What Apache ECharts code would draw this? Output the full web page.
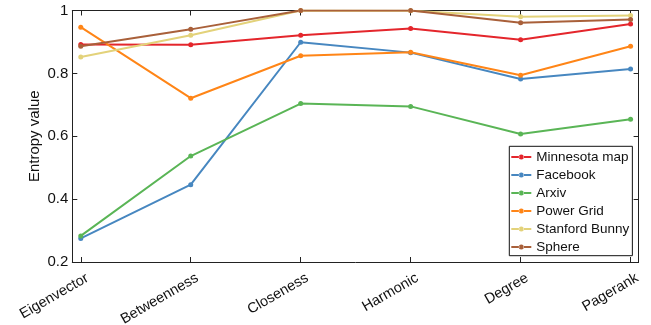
<!DOCTYPE html>
<html><head><meta charset="utf-8">
<script src="https://cdn.jsdelivr.net/npm/echarts@6/dist/echarts.min.js"></script>
<style>html,body{margin:0;padding:0;background:#fff}#c{width:651px;height:325px}</style>
</head><body><div id="c"></div>
<script>
const categories = ['Eigenvector','Betweenness','Closeness','Harmonic','Degree','Pagerank'];
const seriesNames = ['Minnesota map','Facebook','Arxiv','Power Grid','Stanford Bunny','Sphere'];
const minnesota = [0.892, 0.891, 0.921, 0.943, 0.907, 0.957];
const facebook  = [0.275, 0.446, 0.899, 0.866, 0.782, 0.814];
const arxiv     = [0.283, 0.537, 0.704, 0.695, 0.607, 0.654];
const powerGrid = [0.947, 0.721, 0.856, 0.867, 0.794, 0.886];
const bunny     = [0.852, 0.921, 1.000, 0.999, 0.980, 0.984];
const sphere    = [0.886, 0.940, 1.000, 1.000, 0.961, 0.971];
const yTicks = [0.2, 0.4, 0.6, 0.8, 1];

const allValues = [minnesota, facebook, arxiv, powerGrid, bunny, sphere];
const colors = ['#e4262c', '#4787c0', '#5ab556', '#ff8517', '#e3d27a', '#a9603a'];
const font = "'Liberation Sans', Arial, sans-serif";
const axisColor = '#222';
const catIdx = categories.map((c, i) => i);
const xMin = -0.077, xMax = 5.073, labelShift = 0.06;
const legendIcon = 'path://M0,1.5L8,1.5L8,3.5L0,3.5Z M12,1.5L20,1.5L20,3.5L12,3.5Z M7.5,2.5A2.5,2.5,0,1,0,12.5,2.5A2.5,2.5,0,1,0,7.5,2.5Z';

const chart = echarts.init(document.getElementById('c'), null, {renderer: 'canvas'});
const series = seriesNames.map((name, k) => ({
  name: name,
  type: 'line',
  xAxisIndex: 0, yAxisIndex: 0,
  data: allValues[k].map((v, i) => [i, v]),
  symbol: 'circle',
  symbolSize: 5,
  lineStyle: {width: 2, color: colors[k]},
  itemStyle: {color: colors[k]},
  emphasis: {disabled: true},
  animation: false
}));

chart.setOption({
  animation: false,
  color: colors,
  textStyle: {fontFamily: font},
  grid: {left: 72.3, right: 12.4, top: 10.5, bottom: 63, containLabel: false, outerBoundsMode: 'none'},
  xAxis: [{
    type: 'value', min: xMin, max: xMax, position: 'bottom',
    axisLine: {show: true, onZero: false, lineStyle: {color: axisColor, width: 1}},
    axisTick: {show: true, inside: true, length: 5, customValues: catIdx, lineStyle: {color: axisColor}},
    axisLabel: {show: false},
    splitLine: {show: false}
  }, {
    type: 'value', min: xMin, max: xMax, position: 'top',
    axisLine: {show: true, onZero: false, lineStyle: {color: axisColor, width: 1}},
    axisTick: {show: true, inside: true, length: 5, customValues: catIdx, lineStyle: {color: axisColor}},
    axisLabel: {show: false},
    splitLine: {show: false}
  }, {
    type: 'value', min: xMin - labelShift, max: xMax - labelShift, position: 'bottom',
    axisLine: {show: false, onZero: false},
    axisTick: {show: false},
    axisLabel: {customValues: catIdx, rotate: 30, margin: 15, fontSize: 14.5, color: '#111', fontFamily: font,
      formatter: v => categories[Math.round(v)] || ''},
    splitLine: {show: false}
  }],
  yAxis: [{
    type: 'value', min: 0.2, max: 1, interval: 0.2, position: 'left',
    name: 'Entropy value', nameLocation: 'middle', nameGap: 30, nameMoveOverlap: false,
    nameTextStyle: {fontSize: 15, color: '#111', fontFamily: font},
    axisLine: {show: true, onZero: false, lineStyle: {color: axisColor, width: 1}},
    axisTick: {show: true, inside: true, length: 5, lineStyle: {color: axisColor}},
    axisLabel: {margin: 4, fontSize: 15, color: '#111', fontFamily: font,
      formatter: v => (Math.abs(v - 1) < 1e-9 ? '1' : v.toFixed(1))},
    splitLine: {show: false}
  }, {
    type: 'value', min: 0.2, max: 1, interval: 0.2, position: 'right',
    axisLine: {show: true, onZero: false, lineStyle: {color: axisColor, width: 1}},
    axisTick: {show: true, inside: true, length: 5, lineStyle: {color: axisColor}},
    axisLabel: {show: false},
    splitLine: {show: false}
  }],
  legend: {
    orient: 'vertical', left: 509.3, top: 146.3,
    data: seriesNames.map(n => ({name: n, icon: legendIcon})),
    itemWidth: 20, itemHeight: 5, itemGap: 4,
    padding: [3.7, 3, 1.7, 2],
    borderColor: '#111', borderWidth: 1, backgroundColor: '#fff',
    textStyle: {fontSize: 13.5, lineHeight: 14, color: '#111', fontFamily: font},
    selectedMode: false
  },
  series: series
});
</script>
</body></html>
